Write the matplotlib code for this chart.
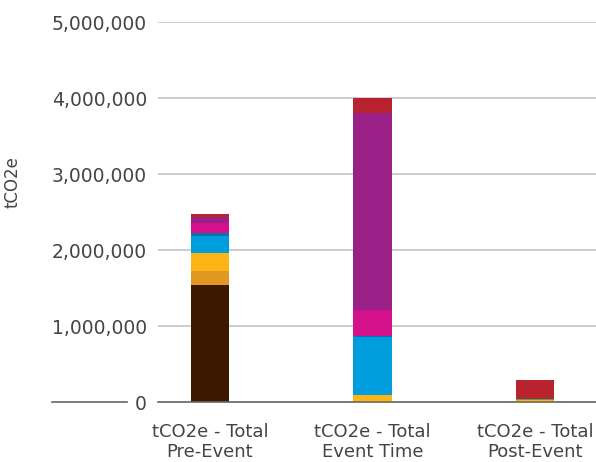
import matplotlib
matplotlib.use("Agg")
import matplotlib.pyplot as plt
from matplotlib.lines import Line2D
from matplotlib.ticker import FuncFormatter
import numpy as np

categories = ["tCO2e - Total\nPre-Event", "tCO2e - Total\nEvent Time", "tCO2e - Total\nPost-Event"]

# stacked components, bottom to top (tCO2e)
seg_brown   = [1540000, 0, 0]
seg_orange  = [185000, 0, 0]
seg_yellow  = [240000, 90000, 20000]
seg_green   = [0, 0, 25000]
seg_blue    = [225000, 770000, 0]
seg_navy    = [30000, 15000, 0]
seg_magenta = [135000, 330000, 0]
seg_purple  = [75000, 2600000, 0]
seg_red     = [50000, 190000, 250000]

y_ticks = [0, 1000000, 2000000, 3000000, 4000000, 5000000]

series = [
    (seg_brown, "#3d1700"),
    (seg_orange, "#e0981f"),
    (seg_yellow, "#fdb515"),
    (seg_green, "#4caa48"),
    (seg_blue, "#009ddc"),
    (seg_navy, "#0a73b0"),
    (seg_magenta, "#d4108b"),
    (seg_purple, "#9a1f86"),
    (seg_red, "#b8232f"),
]

plt.rcParams["font.family"] = ["DejaVu Sans"]
text_color = "#444444"

fig = plt.figure(figsize=(5.96, 4.62), dpi=100)
ax = fig.add_axes([158 / 596, 1 - 402 / 462, 1 - 158 / 596, (402 - 22) / 462])

x = np.arange(len(categories))
bottom = np.zeros(len(categories))
for values, color in series:
    vals = np.array(values, dtype=float)
    ax.bar(x, vals, bottom=bottom, width=0.235, color=color, zorder=3)
    bottom += vals

ax.set_xlim(-0.32, 2.375)
ax.set_ylim(0, 5000000)
ax.set_yticks(y_ticks)
ax.yaxis.set_major_formatter(FuncFormatter(lambda v, p: f"{int(v):,}"))
ax.set_xticks(x)
ax.set_xticklabels(categories, fontsize=13, color=text_color, linespacing=1.15)

ax.grid(axis="y", color="#c0c0c0", linewidth=1.1, zorder=0)
for s in ["top", "right", "left"]:
    ax.spines[s].set_visible(False)
ax.spines["bottom"].set_color("#666666")
ax.spines["bottom"].set_linewidth(1.2)
ax.spines["bottom"].set_zorder(4)
ax.tick_params(axis="y", length=0, pad=8, labelsize=13.5, labelcolor=text_color)
ax.tick_params(axis="x", length=0, pad=15)

ax.set_ylabel("tCO2e", fontsize=12, color=text_color)
ax.yaxis.set_label_coords(-0.312, 0.58)

# baseline segment continuing left of the zero label
fig.add_artist(Line2D([52 / 596, 127 / 596], [1 - 402 / 462, 1 - 402 / 462],
                      color="#666666", linewidth=1.2))

fig.savefig("out.png", dpi=100)
